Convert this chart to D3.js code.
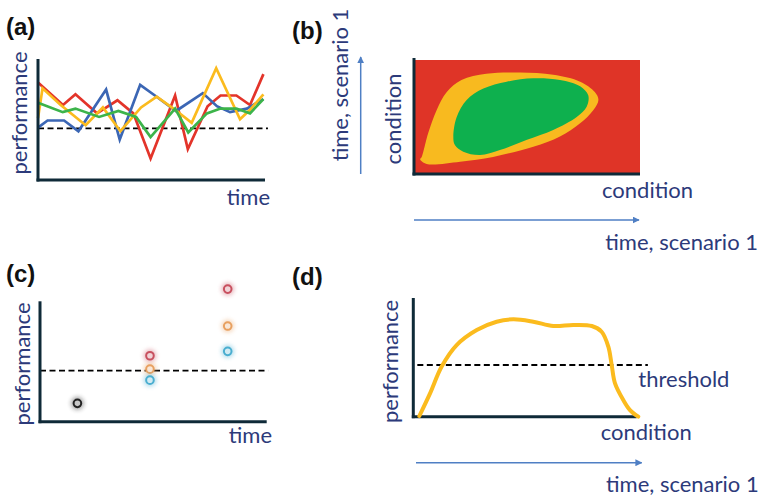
<!DOCTYPE html>
<html>
<head>
<meta charset="utf-8">
<script src="https://cdn.jsdelivr.net/npm/d3@7"></script>
<style>
  body { margin: 0; background: #fff; }
  svg { display: block; }
  .lbl { font-family: Lato, 'Open Sans', sans-serif; fill: #2c3a7a; font-size: 22px; }
  .tag { font-family: 'Liberation Sans', Arial, sans-serif; font-weight: bold; font-size: 24px; fill: #111; }
</style>
</head>
<body>
<svg id="chart" width="763" height="498"></svg>
<script>
// (a) performance over time, four lines [time, performance]
var redLine    = [[0,82],[11,63],[16.5,72],[26,56],[35,67],[42,56],[49.6,18],[60.4,71],[66,26],[74.7,62],[80.4,71],[87.4,71],[93.4,63],[99.3,89]],
    blueLine   = [[0,44],[4.2,50],[11.5,50],[17.8,41],[30,76],[36,34],[45,80],[51.5,71],[60.8,58],[72.6,73],[78.8,62],[84.6,57],[92,60],[99.3,68]],
    yellowLine = [[0,52],[2,77],[10,63],[21,46],[28.6,61],[36.3,41],[45.4,61],[52.3,70],[60.4,59],[67.7,48],[78.5,94],[89,51],[93.4,59],[99.3,72]],
    greenLine  = [[0,65],[10.9,57],[16.5,60],[26.9,53],[35.4,58],[43.2,53],[49.6,36],[60.4,60],[66.2,40],[74.4,56],[80.4,60],[87.4,60],[93.4,56],[99.3,68]],
    thresholdA = 43.3;

// (b) condition map zones [condition x, condition y]
var yellowZone = [[3.4,15],[6.3,36],[10,56],[14.5,72],[21,82.5],[32,88],[47,89],[61.6,87],[73.5,81],[80,72],[81.6,65],[79.3,56],[73.5,44.5],[64.6,33],[52.8,24],[35,15],[20.4,10.8],[5.6,8.8],[2.7,12.9]],
    greenZone  = [[17.4,33],[18.9,50],[23.3,65],[30.7,75],[41,81],[52.8,84],[64.6,82.5],[73.5,77],[77.1,69],[76.4,59],[72,50],[61.6,38.6],[50,30],[38,21],[29.2,16.7],[21.8,19.6],[18.1,25.4]];

// (c) discrete performance points
var dotTime   = [16.5, 48.5, 48.5, 48.5, 82.8, 82.8, 82.8],
    dotPerf   = [15.5, 55.7, 44.4, 35.1, 112, 80.8, 59.4],
    dotColor  = ['#222222', '#c8505f', '#e8a060', '#4aaed0', '#c8505f', '#e8a060', '#4aaed0'],
    thresholdC = 43.1;

// (d) performance curve along condition
var perfCurve = [[2.7,0.6],[7.5,20],[12.7,43],[19.4,61.4],[28.4,74.3],[37.3,81.4],[44.8,83.5],[53.7,81.4],[62.7,77.7],[71.6,78.6],[79.9,77.7],[84.3,72.8],[87.3,60],[88.8,44.3],[90.3,28.6],[94,14.3],[97,5.7],[100.7,0]],
    thresholdD = 44.3;

var lineColors = { red: '#e3342a', blue: '#3b66b4', yellow: '#fbbb1e', green: '#3cb44a' },
    axisColor = '#0f2a38',
    arrowColor = '#4f7fc4';

var svg = d3.select('#chart');

var defs = svg.append('defs');
defs.append('marker')
    .attr('id', 'arrowhead')
    .attr('viewBox', '0 0 10 10')
    .attr('refX', 9).attr('refY', 5)
    .attr('markerWidth', 7).attr('markerHeight', 7)
    .attr('markerUnits', 'userSpaceOnUse')
    .attr('orient', 'auto')
  .append('path')
    .attr('d', 'M0,0 L10,5 L0,10 z')
    .attr('fill', arrowColor);
defs.append('filter')
    .attr('id', 'glow')
    .attr('x', '-100%').attr('y', '-100%').attr('width', '300%').attr('height', '300%')
  .append('feGaussianBlur')
    .attr('stdDeviation', 2);

function axes(g, x, y) {
  g.append('line')
   .attr('x1', x.range()[0]).attr('x2', x.range()[0])
   .attr('y1', y.range()[1] - 2).attr('y2', y.range()[0] + 1.5)
   .attr('stroke', axisColor).attr('stroke-width', 3);
  g.append('line')
   .attr('x1', x.range()[0] - 1.5).attr('x2', x.range()[1])
   .attr('y1', y.range()[0]).attr('y2', y.range()[0])
   .attr('stroke', axisColor).attr('stroke-width', 3);
}

function dashed(g, x, y, v, x0, x1) {
  g.append('line')
   .attr('x1', x(x0)).attr('x2', x(x1))
   .attr('y1', y(v)).attr('y2', y(v))
   .attr('stroke', '#000')
   .attr('stroke-width', 1.8)
   .attr('stroke-dasharray', '6,3.5');
}

function label(txt, px, py, anchor, rotate) {
  svg.append('text')
     .attr('class', 'lbl')
     .attr('text-anchor', anchor)
     .attr('transform', 'translate(' + px + ',' + py + ')' + (rotate ? ' rotate(-90)' : ''))
     .text(txt);
}

function arrow(x1, y1, x2, y2) {
  svg.append('line')
     .attr('x1', x1).attr('y1', y1).attr('x2', x2).attr('y2', y2)
     .attr('stroke', arrowColor)
     .attr('stroke-width', 1.5)
     .attr('marker-end', 'url(#arrowhead)');
}

// ---- (a)
var xa = d3.scaleLinear().domain([0, 100]).range([38, 265]),
    ya = d3.scaleLinear().domain([0, 100]).range([180, 61]);
var ga = svg.append('g');
dashed(ga, xa, ya, thresholdA, 0, 101.3);
var lineA = d3.line().x(function(d) { return xa(d[0]); }).y(function(d) { return ya(d[1]); });
[[redLine, 'red'], [blueLine, 'blue'], [yellowLine, 'yellow'], [greenLine, 'green']].forEach(function(s) {
  ga.append('path')
    .attr('d', lineA(s[0]))
    .attr('fill', 'none')
    .attr('stroke', lineColors[s[1]])
    .attr('stroke-width', 2.7)
    .attr('stroke-linejoin', 'miter');
});
axes(ga, xa, ya);

// ---- (b)
var xb = d3.scaleLinear().domain([0, 100]).range([414, 640]),
    yb = d3.scaleLinear().domain([0, 100]).range([174, 60]);
var gb = svg.append('g');
gb.append('rect')
  .attr('x', xb(0)).attr('y', yb(100))
  .attr('width', xb(100) - xb(0)).attr('height', yb(0) - yb(100))
  .attr('fill', '#df3427');
var blob = d3.line().curve(d3.curveCatmullRomClosed.alpha(0.5))
             .x(function(d) { return xb(d[0]); }).y(function(d) { return yb(d[1]); });
gb.append('path').attr('d', blob(yellowZone)).attr('fill', '#f8ba1f');
gb.append('path').attr('d', blob(greenZone)).attr('fill', '#0eb04e');
axes(gb, xb, yb);

// ---- (c)
var xc = d3.scaleLinear().domain([0, 100]).range([40, 266.7]),
    yc = d3.scaleLinear().domain([0, 100]).range([421.7, 303.3]);
var gc = svg.append('g');
dashed(gc, xc, yc, thresholdC, 0, 100.6);
axes(gc, xc, yc);
var dots = gc.selectAll('.dot')
  .data(dotTime.map(function(t, i) { return { t: t, v: dotPerf[i], c: dotColor[i] }; }))
  .enter().append('g').attr('class', 'dot')
  .attr('transform', function(d) { return 'translate(' + xc(d.t) + ',' + yc(d.v) + ')'; });
dots.append('circle')
    .attr('r', 6.5)
    .attr('fill', function(d) { return d.c; })
    .attr('opacity', 0.4)
    .attr('filter', 'url(#glow)');
dots.append('circle')
    .attr('r', 3.8)
    .attr('fill', function(d) { return d3.interpolateRgb(d.c, '#fff')(0.75); })
    .attr('stroke', function(d) { return d.c; })
    .attr('stroke-width', 2);

// ---- (d)
var xd = d3.scaleLinear().domain([0, 100]).range([413.3, 636.7]),
    yd = d3.scaleLinear().domain([0, 100]).range([416.7, 300]);
var gd = svg.append('g');
dashed(gd, xd, yd, thresholdD, 1.8, 105);
axes(gd, xd, yd);
gd.append('path')
  .attr('d', d3.line().curve(d3.curveCatmullRom.alpha(0.5))
               .x(function(d) { return xd(d[0]); }).y(function(d) { return yd(d[1]); })(perfCurve))
  .attr('fill', 'none')
  .attr('stroke', '#fbbb1e')
  .attr('stroke-width', 4)
  .attr('stroke-linecap', 'round');

// arrows
arrow(360.7, 174, 360.7, 57);
arrow(414, 220, 639, 220);
arrow(416, 462.7, 641.7, 462.7);

// panel tags
[['(a)', 6, 35], ['(b)', 292, 39], ['(c)', 6, 282], ['(d)', 292, 285]].forEach(function(t) {
  svg.append('text').attr('class', 'tag').attr('x', t[1]).attr('y', t[2]).text(t[0]);
});

// axis labels
label('performance', 27, 113, 'middle', true);
label('time', 270, 205, 'end', false);
label('time, scenario 1', 348, 85, 'middle', true);
label('condition', 401, 119, 'middle', true);
label('condition', 693, 198, 'end', false);
label('time, scenario 1', 758, 250, 'end', false);
label('performance', 30, 364, 'middle', true);
label('time', 272, 443, 'end', false);
label('performance', 398, 361.5, 'middle', true);
label('threshold', 638.3, 386.7, 'start', false);
label('condition', 600.7, 440, 'start', false);
label('time, scenario 1', 606, 491.7, 'start', false);
</script>
</body>
</html>
